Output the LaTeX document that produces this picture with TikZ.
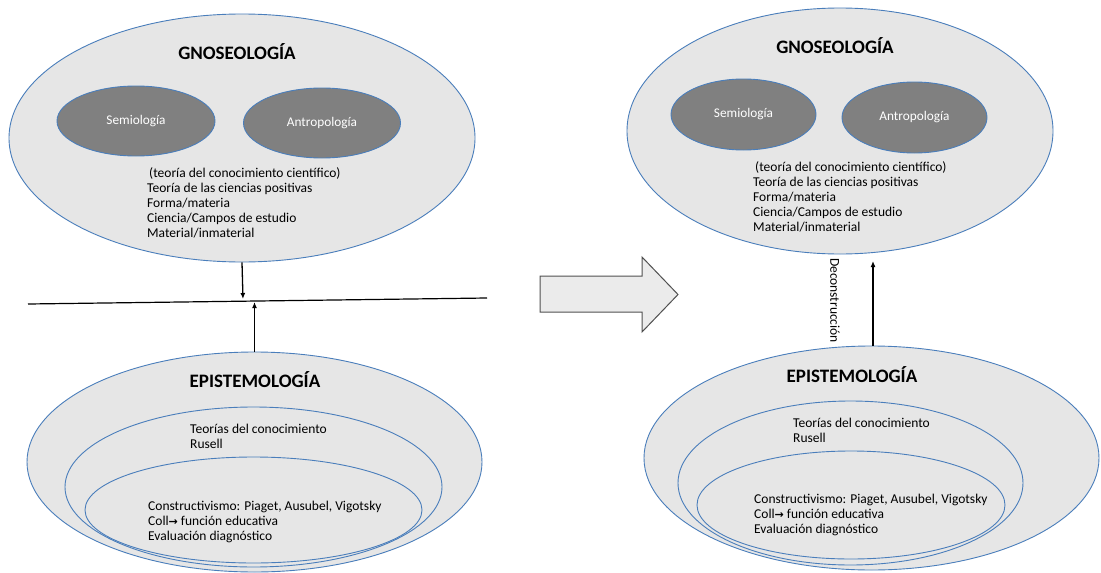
\documentclass[tikz,border=0pt]{standalone}
\usepackage{fontspec}
\setmainfont{Carlito}
\newfontfamily\symfont{DejaVu Sans}
\usetikzlibrary{shapes.geometric,arrows.meta}
\definecolor{ellborder}{RGB}{74,126,187}
\definecolor{ellfill}{RGB}{230,230,230}
\definecolor{darkfill}{RGB}{128,128,128}
\definecolor{arrowfill}{RGB}{235,235,235}
\definecolor{arrowborder}{RGB}{80,80,80}
\tikzset{
  bigell/.style={ellipse, draw=ellborder, fill=ellfill, line width=0.9pt, inner sep=0pt},
  darkell/.style={ellipse, draw=ellborder, fill=darkfill, line width=0.9pt, inner sep=0pt,
     text=white, font=\fontsize{13.3}{15}\selectfont},
  titletxt/.style={anchor=base, inner sep=0pt, font=\fontsize{19}{22}\selectfont\bfseries},
  bodytxt/.style={anchor=base west, inner sep=0pt, font=\fontsize{13.5}{15}\selectfont},
  conn/.style={line width=1.3pt, -{Latex[length=6pt,width=5pt]}},
}
\newcommand{\blk}[1]{\begin{tabular}[t]{@{}l@{}}#1\end{tabular}}
\newcommand{\collarrow}{{\symfont\bfseries\fontsize{11}{15}\selectfont →}}
\begin{document}
\begin{tikzpicture}[x=1pt,y=-1pt]
\useasboundingbox[fill=white] (0,0) rectangle (1101,573);

% ---------- left side ----------
\node[bigell, minimum width=466pt, minimum height=248pt] (gl) at (242,138) {};
\node[darkell, minimum width=158pt, minimum height=70pt] (sl) at (136,121) {Semiología};
\node[darkell, minimum width=157pt, minimum height=70pt] (al) at (322,123) {Antropología};
\node[titletxt] (tgl) at (237,59) {GNOSEOLOGÍA};
\node[bodytxt] (xgl) at (147,177) {\blk{\hspace{2pt}(teoría del conocimiento científico)\\
Teoría de las ciencias positivas\\ Forma/materia\\ Ciencia/Campos de estudio\\ Material/inmaterial}};

\coordinate (ls) at (28,304);
\coordinate (le) at (487,298);
\draw[line width=1.2pt] (ls) -- (le);

\node[bigell, minimum width=455pt, minimum height=220pt] (el) at (254.5,462) {};
\node[bigell, minimum width=377pt, minimum height=160pt] (ml) at (253.5,487) {};
\node[bigell, minimum width=337pt, minimum height=106pt] (il) at (253.5,510) {};
\node[titletxt] (tel) at (255,387) {EPISTEMOLOGÍA};
\node[bodytxt] (xml) at (190,433) {\blk{Teorías del conocimiento\\ Rusell}};
\node[bodytxt] (xil) at (148,510) {\blk{Constructivismo: Piaget, Ausubel, Vigotsky\\
Coll\collarrow\ función educativa\\ Evaluación diagnóstico}};

\coordinate (ld) at (243,299);
\coordinate (lu) at (254.5,302);
\draw[conn] (gl.south) -- (ld);
\draw[conn] (el.north) -- (lu);

% ---------- big arrow ----------
\draw[draw=arrowborder, fill=arrowfill, line width=1pt]
  (540,276) -- (642,276) -- (642,257) -- (678,294.5) -- (642,332) -- (642,312) -- (540,312) -- cycle;

% ---------- right side ----------
\node[bigell, minimum width=426pt, minimum height=246pt] (gr) at (840,131) {};
\node[darkell, minimum width=145pt, minimum height=71pt] (sr) at (743.5,114.5) {Semiología};
\node[darkell, minimum width=145pt, minimum height=71pt] (ar) at (914.5,117.5) {Antropología};
\node[titletxt] (tgr) at (835,53) {GNOSEOLOGÍA};
\node[bodytxt] (xgr) at (753,171) {\blk{\hspace{2pt}(teoría del conocimiento científico)\\
Teoría de las ciencias positivas\\ Forma/materia\\ Ciencia/Campos de estudio\\ Material/inmaterial}};

\node[bigell, minimum width=455pt, minimum height=224pt] (er) at (871.5,458) {};
\node[bigell, minimum width=345pt, minimum height=164pt] (mr) at (850.5,483) {};
\node[bigell, minimum width=308pt, minimum height=108pt] (ir) at (851,505) {};
\node[titletxt] (ter) at (852,382) {EPISTEMOLOGÍA};
\node[bodytxt] (xmr) at (793,427) {\blk{Teorías del conocimiento\\ Rusell}};
\node[bodytxt] (xir) at (754,503) {\blk{Constructivismo: Piaget, Ausubel, Vigotsky\\
Coll\collarrow\ función educativa\\ Evaluación diagnóstico}};

\coordinate (rt) at (873,261);
\draw[conn] (er.north -| rt) -- (rt);
\node[rotate=-90, inner sep=0pt, font=\fontsize{13.5}{15}\selectfont] (dec) at (835,300.5) {Deconstrucción};
\end{tikzpicture}
\end{document}
